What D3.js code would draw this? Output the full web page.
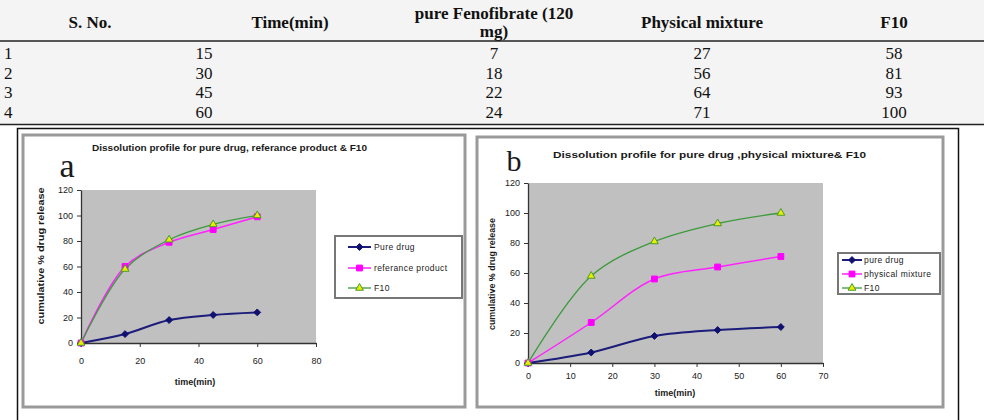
<!DOCTYPE html>
<html>
<head>
<meta charset="utf-8">
<script src="https://cdn.jsdelivr.net/npm/d3@7"></script>
<style>
  html, body { margin: 0; padding: 0; background: #fff; }
  svg { display: block; }
  .tbl text { font-family: "Liberation Serif", "Times New Roman", serif; fill: #111; }
  .chart text { font-family: "Liberation Sans", Arial, sans-serif; fill: #1a1a1a; }
</style>
</head>
<body>
<div id="view"></div>
<script>
// ---------- Table data ----------
const tableHeaders = ["S. No.", "Time(min)", ["pure Fenofibrate (120", "mg)"], "Physical mixture", "F10"];
const sNo      = [1, 2, 3, 4];
const timeMin  = [15, 30, 45, 60];
const pureFeno = [7, 18, 22, 24];
const physMix  = [27, 56, 64, 71];
const f10Tbl   = [58, 81, 93, 100];

// ---------- Chart data ----------
const timePoints       = [0, 15, 30, 45, 60];
const pureDrug         = [0, 7, 18, 22, 24];
const referenceProduct = [0, 60, 79, 89, 99];
const physicalMixture  = [0, 27, 56, 64, 71];
const f10Release       = [0, 58, 81, 93, 100];
const yTickValues      = [0, 20, 40, 60, 80, 100, 120];
const xTicksA          = [0, 20, 40, 60, 80];
const xTicksB          = [0, 10, 20, 30, 40, 50, 60, 70];

(function () {
  const W = 984, H = 420;
  const svg = d3.select("#view").append("svg").attr("width", W).attr("height", H);

  // ---------- Table ----------
  const tbl = svg.append("g").attr("class", "tbl");
  tbl.append("rect").attr("x", 0).attr("y", 0).attr("width", W).attr("height", 124).attr("fill", "#f4f4f4");

  const headX = [90, 290, 494, 702, 894];
  const dataX = [4, 204, 494, 702, 894];

  tableHeaders.forEach((h, i) => {
    const t = tbl.append("text")
      .attr("x", headX[i])
      .attr("text-anchor", "middle")
      .style("font-size", "17px")
      .style("font-weight", "bold");
    if (Array.isArray(h)) {
      t.append("tspan").attr("x", headX[i]).attr("y", 19).text(h[0]);
      t.append("tspan").attr("x", headX[i]).attr("y", 37).text(h[1]);
    } else {
      t.attr("y", 28).text(h);
    }
  });

  tbl.append("line").attr("x1", 0).attr("x2", W).attr("y1", 41).attr("y2", 41)
    .attr("stroke", "#222").attr("stroke-width", 1.5);

  const cols = [sNo, timeMin, pureFeno, physMix, f10Tbl];
  const rowY = d3.scalePoint().domain(d3.range(sNo.length)).range([59, 118]);
  cols.forEach((col, ci) => {
    tbl.selectAll(null)
      .data(col)
      .join("text")
      .attr("x", dataX[ci])
      .attr("y", (d, i) => rowY(i))
      .attr("text-anchor", ci === 0 ? "start" : "middle")
      .style("font-size", "17px")
      .text(d => d);
  });

  tbl.append("line").attr("x1", 0).attr("x2", W).attr("y1", 124.5).attr("y2", 124.5)
    .attr("stroke", "#222").attr("stroke-width", 1.5);

  // outer box round both charts
  svg.append("rect")
    .attr("x", 17.5).attr("y", 128.5).attr("width", 941).attr("height", 300)
    .attr("fill", "none").attr("stroke", "#111").attr("stroke-width", 1.5);

  // ---------- Marker shapes ----------
  const SYMBOLS = {
    diamond : d3.symbol().type(d3.symbolDiamond2).size(30),
    square  : d3.symbol().type(d3.symbolSquare).size(34),
    triangle: d3.symbol().type(d3.symbolTriangle).size(26)
  };

  // ---------- One chart ----------
  function drawChart(cfg) {
    const g = svg.append("g").attr("class", "chart");

    g.append("rect")
      .attr("x", cfg.frame[0]).attr("y", cfg.frame[1])
      .attr("width", cfg.frame[2] - cfg.frame[0]).attr("height", cfg.frame[3] - cfg.frame[1])
      .attr("fill", "#fff").attr("stroke", "#9a9a9a").attr("stroke-width", 3);

    const x = d3.scaleLinear().domain(cfg.xDomain).range([cfg.plot.l, cfg.plot.r]);
    const y = d3.scaleLinear().domain([0, 120]).range([cfg.plot.b, cfg.plot.t]);

    // plot area
    g.append("rect")
      .attr("x", x(cfg.xDomain[0])).attr("y", y(120))
      .attr("width", x(cfg.xDomain[1]) - x(cfg.xDomain[0]))
      .attr("height", y(0) - y(120))
      .attr("fill", "#c0c0c0");

    // big panel letter (behind the axis labels)
    g.append("text")
      .attr("x", cfg.letter.x).attr("y", cfg.letter.y)
      .attr("text-anchor", "middle")
      .style("font-family", "'Liberation Serif', 'Times New Roman', serif")
      .style("font-size", cfg.letter.size + "px")
      .attr("fill", "#141438")
      .text(cfg.letter.text);

    // axes
    const ax = g.append("g")
      .attr("transform", `translate(0,${y(0)})`)
      .call(d3.axisBottom(x).tickValues(cfg.xTicks).tickSize(4).tickSizeOuter(0).tickPadding(cfg.xPad));
    const ay = g.append("g")
      .attr("transform", `translate(${x(0)},0)`)
      .call(d3.axisLeft(y).tickValues(yTickValues).tickSize(4).tickSizeOuter(0).tickPadding(4));
    [ax, ay].forEach(a => {
      a.selectAll("path.domain").attr("stroke", "#333").attr("stroke-width", 1.3);
      a.selectAll(".tick line").attr("stroke", "#333");
      a.selectAll("text")
        .style("font-size", "9px")
        .style("font-family", "'Liberation Sans', Arial, sans-serif")
        .attr("fill", "#222");
    });

    // series
    const line = d3.line()
      .x((d, i) => x(timePoints[i]))
      .y(d => y(d))
      .curve(d3.curveCatmullRom.alpha(0.5));

    cfg.series.forEach(s => {
      g.append("path")
        .datum(s.values)
        .attr("d", line)
        .attr("fill", "none")
        .attr("stroke", s.color)
        .attr("stroke-width", s.width);
    });
    cfg.series.forEach(s => {
      g.selectAll(null)
        .data(s.values)
        .join("path")
        .attr("transform", (d, i) => `translate(${x(timePoints[i])},${y(d)})`)
        .attr("d", SYMBOLS[s.shape])
        .attr("fill", s.fill)
        .attr("stroke", s.stroke)
        .attr("stroke-width", 1);
    });

    // title
    g.append("text")
      .attr("x", cfg.title.x).attr("y", cfg.title.y)
      .attr("textLength", cfg.title.len).attr("lengthAdjust", "spacingAndGlyphs")
      .style("font-size", "9.5px").style("font-weight", "bold")
      .text(cfg.title.text);

    // axis titles
    g.append("text")
      .attr("x", cfg.xTitle[0]).attr("y", cfg.xTitle[1])
      .attr("text-anchor", "middle")
      .style("font-size", "9px").style("font-weight", "bold")
      .text("time(min)");
    g.append("text")
      .attr("transform", `translate(${cfg.yTitle[0]},${cfg.yTitle[1]}) rotate(-90)`)
      .attr("text-anchor", "middle")
      .attr("dy", "0.35em")
      .attr("textLength", cfg.yTitle[2]).attr("lengthAdjust", "spacingAndGlyphs")
      .style("font-size", "9px").style("font-weight", "bold")
      .text("cumulative % drug release");

    // legend
    const L = cfg.legend;
    g.append("rect")
      .attr("x", L.box[0]).attr("y", L.box[1])
      .attr("width", L.box[2] - L.box[0]).attr("height", L.box[3] - L.box[1])
      .attr("fill", "#fff").attr("stroke", "#777").attr("stroke-width", 2);
    cfg.series.forEach((s, i) => {
      const yy = L.rows[i];
      g.append("line")
        .attr("x1", L.line[0]).attr("x2", L.line[1]).attr("y1", yy).attr("y2", yy)
        .attr("stroke", s.color).attr("stroke-width", s.width);
      g.append("path")
        .attr("transform", `translate(${(L.line[0] + L.line[1]) / 2},${yy})`)
        .attr("d", SYMBOLS[s.shape])
        .attr("fill", s.fill).attr("stroke", s.stroke);
      g.append("text")
        .attr("x", L.textX).attr("y", yy).attr("dy", "0.35em")
        .style("font-size", "8.5px")
        .style("letter-spacing", "0.4px")
        .text(s.name);
    });
  }

  const navy = { color: "#1c1c7a", width: 2, shape: "diamond", fill: "#101070", stroke: "#101070" };
  const pink = { color: "#ff22ff", width: 1.5, shape: "square", fill: "#ff00ff", stroke: "#ff00ff" };
  const green = { color: "#3c9a3c", width: 1.3, shape: "triangle", fill: "#e8f000", stroke: "#4b9a2a" };

  // ---------- Chart a ----------
  drawChart({
    frame: [23, 135, 465, 407],
    plot: { l: 81, r: 316, t: 190, b: 343 },
    xDomain: [0, 80],
    xTicks: xTicksA,
    xPad: 11,
    title: { x: 92, y: 151, len: 275, text: "Dissolution profile for pure drug, referance product & F10" },
    letter: { x: 67, y: 177, size: 34, text: "a" },
    xTitle: [195, 385],
    yTitle: [41, 256, 137],
    legend: { box: [335, 236, 462, 298], rows: [247, 268, 288], line: [348, 371], textX: 374 },
    series: [
      Object.assign({ name: "Pure drug", values: pureDrug }, navy),
      Object.assign({ name: "referance product", values: referenceProduct }, pink),
      Object.assign({ name: "F10", values: f10Release }, green)
    ]
  });

  // ---------- Chart b ----------
  drawChart({
    frame: [477, 137, 943, 407],
    plot: { l: 528, r: 823, t: 183, b: 363 },
    xDomain: [0, 70],
    xTicks: xTicksB,
    xPad: 6,
    title: { x: 553, y: 158, len: 313, text: "Dissolution profile for pure drug ,physical mixture& F10" },
    letter: { x: 514, y: 171, size: 30, text: "b" },
    xTitle: [675, 396],
    yTitle: [492, 274, 112],
    legend: { box: [838, 253, 940, 294], rows: [260, 274, 288], line: [842, 862], textX: 864 },
    series: [
      Object.assign({ name: "pure drug", values: pureDrug }, navy),
      Object.assign({ name: "physical mixture", values: physicalMixture }, pink),
      Object.assign({ name: "F10", values: f10Release }, green)
    ]
  });
})();
</script>
</body>
</html>
